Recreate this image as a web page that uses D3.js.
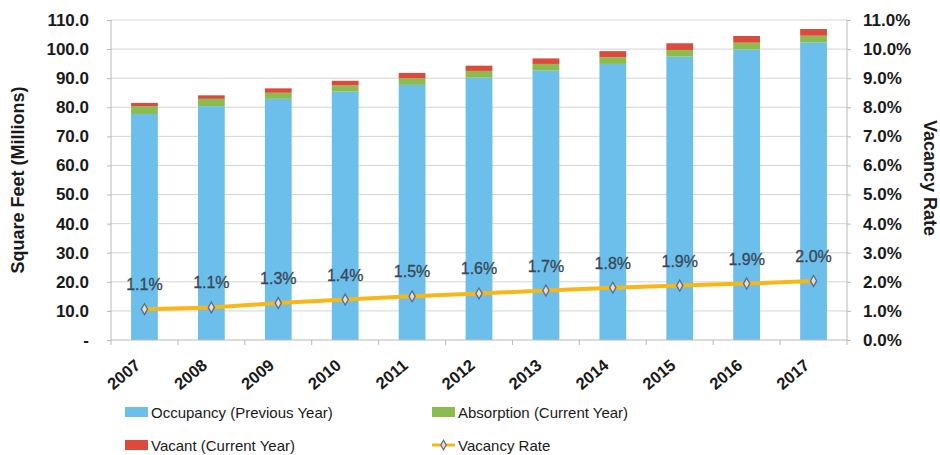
<!DOCTYPE html>
<html>
<head>
<meta charset="utf-8">
<script src="https://cdn.jsdelivr.net/npm/d3@7"></script>
<style>
  body { margin: 0; background: #ffffff; }
  svg { display: block; font-family: "Liberation Sans", Arial, sans-serif; }
</style>
</head>
<body>
<div id="chart"></div>
<script>
const years = ["2007", "2008", "2009", "2010", "2011", "2012", "2013", "2014", "2015", "2016", "2017"];
const occupancy = [77.7, 80.4, 82.9, 85.4, 87.7, 90.2, 92.6, 94.9, 97.4, 99.9, 102.3];
const absorption = [2.7, 2.5, 2.1, 2.1, 2.3, 2.3, 2.3, 2.3, 2.3, 2.3, 2.3];
const vacant = [1.1, 1.2, 1.5, 1.6, 1.8, 1.8, 1.9, 2.1, 2.3, 2.3, 2.3];
const vacancyRate = [0.0106, 0.0112, 0.0127, 0.0139, 0.015, 0.016, 0.017, 0.018, 0.0187, 0.0194, 0.0203];
const leftTicks = [0, 10, 20, 30, 40, 50, 60, 70, 80, 90, 100, 110];
const rightTicks = [0, 0.01, 0.02, 0.03, 0.04, 0.05, 0.06, 0.07, 0.08, 0.09, 0.1, 0.11];

const seriesKeys = ["occupancy", "absorption", "vacant"];
const seriesNames = {
  occupancy: "Occupancy (Previous Year)",
  absorption: "Absorption (Current Year)",
  vacant: "Vacant (Current Year)"
};
const palette = {
  occupancy: "#6bbfea",
  absorption: "#8cbb4e",
  vacant: "#dc4a3c",
  line: "#f7b718",
  marker: "#5d6b86",
  label: "#3a4657",
  grid: "#d4d4d4",
  axis: "#b9b9b9",
  text: "#1a1a1a"
};

const width = 940;
const height = 455;
const margin = { top: 20, right: 93, bottom: 115, left: 111 };
const innerWidth = width - margin.left - margin.right;
const innerHeight = height - margin.top - margin.bottom;

const rows = years.map((year, i) => ({
  year,
  occupancy: occupancy[i],
  absorption: absorption[i],
  vacant: vacant[i],
  rate: vacancyRate[i]
}));

const x = d3.scaleBand().domain(years).range([0, innerWidth]).paddingInner(0.6).paddingOuter(0.3);
const xOuter = d3.scaleBand().domain(years).range([0, innerWidth]);
const y = d3.scaleLinear().domain([0, 110]).range([innerHeight, 0]);
const yRate = d3.scaleLinear().domain([0, 0.11]).range([innerHeight, 0]);
const stack = d3.stack().keys(seriesKeys)(rows);
const xCenter = (year) => xOuter(year) + xOuter.bandwidth() / 2;

const svg = d3.select("#chart").append("svg").attr("width", width).attr("height", height);
const chart = svg.append("g").attr("transform", `translate(${margin.left},${margin.top})`);

chart
  .append("g")
  .selectAll("line")
  .data(leftTicks.filter((v) => v > 0))
  .join("line")
  .attr("x1", 0)
  .attr("x2", innerWidth)
  .attr("y1", (v) => y(v))
  .attr("y2", (v) => y(v))
  .attr("stroke", palette.grid)
  .attr("stroke-width", 1);

chart
  .append("g")
  .selectAll("g")
  .data(stack)
  .join("g")
  .attr("fill", (layer) => palette[layer.key])
  .selectAll("rect")
  .data((layer) => layer)
  .join("rect")
  .attr("x", (d) => xCenter(d.data.year) - x.bandwidth() / 2)
  .attr("width", x.bandwidth())
  .attr("y", (d) => y(d[1]))
  .attr("height", (d) => y(d[0]) - y(d[1]));

// left axis
chart
  .append("g")
  .call(d3.axisLeft(y).tickValues(leftTicks).tickSize(4).tickPadding(18).tickFormat((v) => (v === 0 ? "-" : d3.format(".1f")(v))))
  .call((axis) => axis.selectAll("text").attr("font-size", 17).attr("font-weight", 700).attr("fill", palette.text).attr("font-family", "Liberation Sans, Arial, sans-serif"))
  .call((axis) => axis.selectAll("line").attr("stroke", palette.axis))
  .call((axis) => axis.select(".domain").attr("stroke", palette.axis).attr("d", `M0,0V${innerHeight}`));

// right axis
chart
  .append("g")
  .attr("transform", `translate(${innerWidth},0)`)
  .call(d3.axisRight(yRate).tickValues(rightTicks).tickSize(4).tickPadding(12).tickFormat(d3.format(".1%")))
  .call((axis) => axis.selectAll("text").attr("font-size", 17).attr("font-weight", 700).attr("fill", palette.text).attr("font-family", "Liberation Sans, Arial, sans-serif"))
  .call((axis) => axis.selectAll("line").attr("stroke", palette.axis))
  .call((axis) => axis.select(".domain").attr("stroke", palette.axis).attr("d", `M0,0V${innerHeight}`));

// bottom axis, ticks sit on the category boundaries
const bottom = chart.append("g").attr("transform", `translate(0,${innerHeight})`);
bottom.append("line").attr("x1", 0).attr("x2", innerWidth).attr("stroke", palette.axis);
bottom
  .selectAll("line.tick")
  .data([0].concat(years.map((year) => xOuter(year) + xOuter.bandwidth())))
  .join("line")
  .attr("class", "tick")
  .attr("x1", (d) => d)
  .attr("x2", (d) => d)
  .attr("y1", 0)
  .attr("y2", 5)
  .attr("stroke", palette.axis);
bottom
  .selectAll("text")
  .data(years)
  .join("text")
  .attr("transform", (d) => `translate(${xCenter(d) - 3},${27}) rotate(-40)`)
  .attr("text-anchor", "end")
  .attr("font-size", 16.5)
  .attr("font-weight", 700)
  .attr("fill", palette.text)
  .text((d) => d);

// vacancy rate line
const line = d3
  .line()
  .x((d) => xCenter(d.year))
  .y((d) => yRate(d.rate));

chart
  .append("path")
  .datum(rows)
  .attr("fill", "none")
  .attr("stroke", palette.line)
  .attr("stroke-width", 4)
  .attr("stroke-linecap", "round")
  .attr("d", line);

const diamond = d3.symbol().type(d3.symbolDiamond).size(34);
chart
  .append("g")
  .selectAll("path")
  .data(rows)
  .join("path")
  .attr("transform", (d) => `translate(${xCenter(d.year)},${yRate(d.rate)})`)
  .attr("d", diamond)
  .attr("fill", "#e9dccb")
  .attr("stroke", palette.marker)
  .attr("stroke-width", 1.3);

chart
  .append("g")
  .selectAll("text")
  .data(rows)
  .join("text")
  .attr("x", (d) => xCenter(d.year))
  .attr("y", (d) => yRate(d.rate) - 19)
  .attr("text-anchor", "middle")
  .attr("font-size", 16)
  .attr("fill", palette.label)
  .attr("stroke", palette.label)
  .attr("stroke-width", 0.3)
  .text((d) => d3.format(".1%")(d.rate));

// axis titles
svg
  .append("text")
  .attr("transform", `translate(24,${margin.top + innerHeight / 2}) rotate(-90)`)
  .attr("text-anchor", "middle")
  .attr("font-size", 18)
  .attr("font-weight", 700)
  .attr("fill", palette.text)
  .text("Square Feet (Millions)");

svg
  .append("text")
  .attr("transform", `translate(924,${margin.top + innerHeight / 2 - 2}) rotate(90)`)
  .attr("text-anchor", "middle")
  .attr("font-size", 18)
  .attr("font-weight", 700)
  .attr("fill", palette.text)
  .text("Vacancy Rate");

// legend
const legendItems = [
  { key: "occupancy", x: 125, y: 412 },
  { key: "absorption", x: 432, y: 412 },
  { key: "vacant", x: 125, y: 445 },
  { key: "rate", x: 432, y: 445 }
];
const legend = svg.append("g");
legendItems.forEach((item) => {
  const g = legend.append("g").attr("transform", `translate(${item.x},${item.y})`);
  if (item.key === "rate") {
    g.append("line").attr("x1", 0).attr("x2", 23).attr("stroke", palette.line).attr("stroke-width", 3);
    g.append("path").attr("transform", "translate(11.5,0)").attr("d", d3.symbol().type(d3.symbolDiamond).size(26)).attr("fill", "#e9dccb").attr("stroke", palette.marker).attr("stroke-width", 1.2);
  } else {
    g.append("rect").attr("x", 0).attr("y", -5).attr("width", 23).attr("height", 10).attr("fill", palette[item.key]);
  }
  g.append("text")
    .attr("x", 26)
    .attr("y", 5.5)
    .attr("font-size", 15)
    .attr("fill", palette.text)
    .text(item.key === "rate" ? "Vacancy Rate" : seriesNames[item.key]);
});
</script>
</body>
</html>
